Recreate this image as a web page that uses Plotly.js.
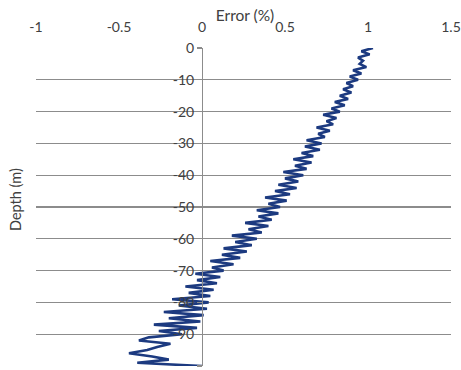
<!DOCTYPE html>
<html>
<head>
<meta charset="utf-8">
<script src="https://cdn.plot.ly/plotly-3.0.1.min.js"></script>
<style>html,body{margin:0;padding:0;background:#fff;}#chart{width:461px;height:370px;}</style>
</head>
<body>
<div id="chart"></div>
<script>
// Depth (m), 0 to -100
const depth = [0,-1,-2,-3,-4,-5,-6,-7,-8,-9,-10,-11,-12,-13,-14,-15,-16,-17,-18,-19,-20,
  -21,-22,-23,-24,-25,-26,-27,-28,-29,-30,-31,-32,-33,-34,-35,-36,-37,-38,-39,-40,
  -41,-42,-43,-44,-45,-46,-47,-48,-49,-50,-51,-52,-53,-54,-55,-56,-57,-58,-59,-60,
  -61,-62,-63,-64,-65,-66,-67,-68,-69,-70,-71,-72,-73,-74,-75,-76,-77,-78,-79,-80,
  -81,-82,-83,-84,-85,-86,-87,-88,-89,-90,-91,-92,-93,-94,-95,-96,-97,-98,-99,-100];
// Error (%)
const errorPct = [1.03,0.96,1.01,0.94,0.97,0.95,0.99,0.91,0.96,0.89,0.94,0.87,0.91,0.85,0.90,0.83,0.88,0.80,0.86,0.78,0.83,
  0.73,0.81,0.75,0.79,0.69,0.77,0.70,0.74,0.63,0.72,0.62,0.71,0.60,0.67,0.55,0.66,0.56,0.63,0.49,0.61,
  0.50,0.58,0.46,0.57,0.44,0.53,0.38,0.51,0.40,0.47,0.33,0.46,0.34,0.42,0.26,0.40,0.28,0.36,0.18,0.33,
  0.20,0.30,0.13,0.27,0.12,0.23,0.05,0.19,0.06,0.13,-0.04,0.11,-0.03,0.09,-0.10,0.07,-0.08,0.05,-0.18,0.04,
  -0.14,0.03,-0.23,0.01,-0.20,-0.01,-0.29,-0.03,-0.26,-0.12,-0.32,-0.38,-0.19,-0.27,-0.33,-0.44,-0.30,-0.20,-0.39,0.00];

const xTicks = [-1,-0.5,0,0.5,1,1.5];
const xTickText = ['-1','-0.5','0','0.5','1','1.5'];
const yTicks = [0,-10,-20,-30,-40,-50,-60,-70,-80,-90,-100];
const yTickText = ['0','-10','-20','-30','-40','-50','-60','-70','-80','-90','-100'];

const fontFam = 'Lato, "Open Sans", sans-serif';
const txtCol = '#404040';
const gridCol = '#8c8c8c';

const data = [{
  x: errorPct,
  y: depth,
  type: 'scatter',
  mode: 'lines',
  line: {color: '#1c3a80', width: 2.6},
  showlegend: false,
  hoverinfo: 'x+y'
}];

const layout = {
  width: 461, height: 370,
  margin: {l: 36, r: 10, t: 48, b: 4},
  paper_bgcolor: '#fff', plot_bgcolor: '#fff',
  font: {family: fontFam, size: 14, color: txtCol},
  title: {
    text: 'Error (%)', font: {family: fontFam, size: 15.5, color: txtCol},
    xref: 'container', yref: 'container', x: 245/461, y: 1 - 16/370,
    xanchor: 'center', yanchor: 'middle'
  },
  xaxis: {
    side: 'top', range: [-1, 1.5], domain: [0, 1],
    tickvals: xTicks, ticktext: xTickText,
    ticks: 'outside', ticklen: 9, tickcolor: 'rgba(0,0,0,0)',
    showgrid: false, zeroline: false, showline: false,
    tickfont: {family: fontFam, size: 14, color: txtCol}
  },
  yaxis: {
    range: [-100, 0], anchor: 'free', position: 0.4,
    tickvals: yTicks, ticktext: yTickText,
    ticks: 'outside', ticklen: 5, tickcolor: gridCol, tickwidth: 1.2,
    showgrid: true, gridcolor: gridCol, gridwidth: 1.2,
    showline: true, linecolor: gridCol, linewidth: 1.2,
    zeroline: false,
    tickfont: {family: fontFam, size: 14, color: txtCol}
  },
  annotations: [{
    text: 'Depth (m)', textangle: -90, showarrow: false,
    xref: 'paper', yref: 'paper', x: (15 - 36) / 415, y: (366 - 200) / 318,
    xanchor: 'center', yanchor: 'middle',
    font: {family: fontFam, size: 14.5, color: txtCol}
  }]
};

Plotly.newPlot('chart', data, layout, {displayModeBar: false, staticPlot: true});
</script>
</body>
</html>
